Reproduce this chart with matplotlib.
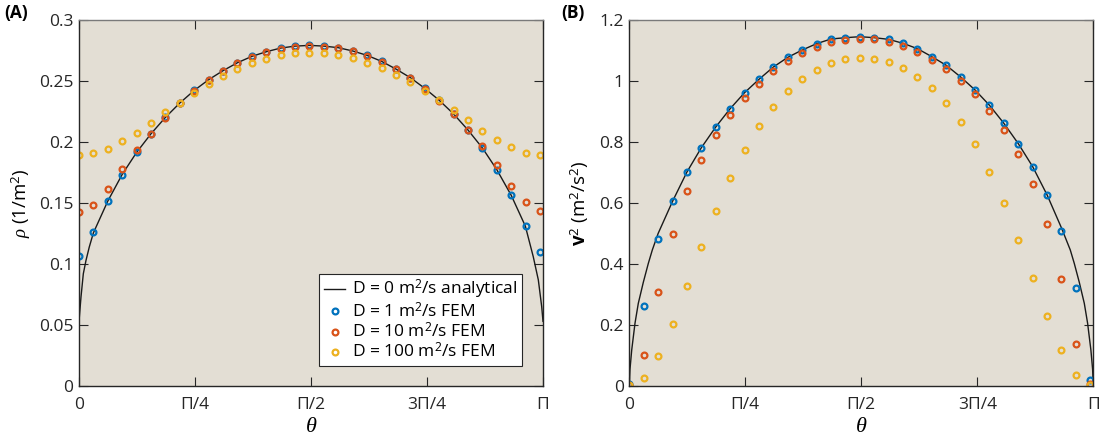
import numpy as np
import matplotlib
matplotlib.use("Agg")
import matplotlib.pyplot as plt
from matplotlib.lines import Line2D

plt.rcParams['font.family'] = ['Open Sans', 'DejaVu Sans']
plt.rcParams['mathtext.fontset'] = 'custom'
plt.rcParams['mathtext.rm'] = 'Open Sans'
plt.rcParams['mathtext.it'] = 'Liberation Serif:italic'
plt.rcParams['mathtext.bf'] = 'Open Sans:bold'

# ---------------- data ----------------
# FEM sample angles (fraction of pi)
theta_fem_frac = np.linspace(0.0, 0.9935, 33)

rho_D1 = [0.1063, 0.1260, 0.1516, 0.1732, 0.1915, 0.2068, 0.2202, 0.2320, 0.2423, 0.2511,
          0.2585, 0.2650, 0.2702, 0.2740, 0.2770, 0.2786, 0.2792, 0.2786, 0.2773, 0.2746,
          0.2710, 0.2661, 0.2598, 0.2527, 0.2440, 0.2342, 0.2230, 0.2098, 0.1951, 0.1773,
          0.1563, 0.1311, 0.1096]
rho_D10 = [0.1426, 0.1486, 0.1612, 0.1776, 0.1934, 0.2068, 0.2200, 0.2318, 0.2421, 0.2508,
           0.2582, 0.2647, 0.2699, 0.2737, 0.2766, 0.2782, 0.2788, 0.2782, 0.2769, 0.2742,
           0.2706, 0.2657, 0.2595, 0.2524, 0.2438, 0.2340, 0.2229, 0.2100, 0.1967, 0.1809,
           0.1642, 0.1506, 0.1432]
rho_D100 = [0.1893, 0.1907, 0.1945, 0.2005, 0.2077, 0.2156, 0.2246, 0.2320, 0.2402, 0.2475,
            0.2538, 0.2596, 0.2645, 0.2683, 0.2710, 0.2727, 0.2732, 0.2727, 0.2713, 0.2689,
            0.2650, 0.2607, 0.2552, 0.2489, 0.2418, 0.2342, 0.2265, 0.2178, 0.2093, 0.2016,
            0.1956, 0.1913, 0.1896]

v2_D1 = [0.005, 0.2634, 0.4810, 0.6055, 0.7016, 0.7814, 0.8492, 0.9093, 0.9617, 1.0055,
         1.0459, 1.0776, 1.1016, 1.1224, 1.1377, 1.1420, 1.1453, 1.1420, 1.1366, 1.1235,
         1.1060, 1.0797, 1.0514, 1.0131, 0.9705, 0.9203, 0.8612, 0.7945, 0.7190, 0.6262,
         0.5093, 0.3224, 0.0197]
v2_D10 = [0.002, 0.1005, 0.3071, 0.4973, 0.6393, 0.7420, 0.8230, 0.8885, 0.9432, 0.9913,
          1.0317, 1.0656, 1.0918, 1.1126, 1.1268, 1.1355, 1.1388, 1.1366, 1.1290, 1.1148,
          1.0951, 1.0699, 1.0393, 1.0000, 0.9563, 0.9016, 0.8383, 0.7607, 0.6633, 0.5301,
          0.3497, 0.1377, 0.005]
v2_D100 = [0.002, 0.0251, 0.0984, 0.2044, 0.3279, 0.4546, 0.5749, 0.6830, 0.7749, 0.8514,
           0.9159, 0.9672, 1.0077, 1.0372, 1.0601, 1.0721, 1.0765, 1.0732, 1.0623, 1.0426,
           1.0142, 0.9760, 0.9268, 0.8667, 0.7924, 0.7016, 0.5990, 0.4798, 0.3530, 0.2284,
           0.1180, 0.0372, 0.002]

# analytical (D = 0) curves (theta as fraction of pi)
theta_an_A_frac = [0.0, 0.0043, 0.0093, 0.0151, 0.0222, 0.0310, 0.0621, 0.0932, 0.1242, 0.1553,
                   0.1863, 0.2174, 0.2484, 0.2795, 0.3105, 0.3416, 0.3726, 0.4037, 0.4347, 0.4658,
                   0.4968, 0.5279, 0.5589, 0.5900, 0.6210, 0.6521, 0.6831, 0.7142, 0.7452, 0.7763,
                   0.8073, 0.8384, 0.8694, 0.9005, 0.9315, 0.9619, 0.9790, 0.9899, 0.9972, 1.0]
rho_an = [0.053, 0.073, 0.092, 0.103, 0.114, 0.1255, 0.1516, 0.1735, 0.1915, 0.2068,
          0.2202, 0.2320, 0.2423, 0.2511, 0.2585, 0.2650, 0.2702, 0.2740, 0.2770, 0.2786,
          0.2792, 0.2786, 0.2773, 0.2746, 0.2710, 0.2661, 0.2598, 0.2527, 0.2440, 0.2342,
          0.2230, 0.2098, 0.1951, 0.1773, 0.1563, 0.1311, 0.1060, 0.0870, 0.0650, 0.053]

theta_an_B_frac = [0.0, 0.0015, 0.0052, 0.0123, 0.0194, 0.0302, 0.0410, 0.0496, 0.0621, 0.0932,
                   0.1242, 0.1553, 0.1863, 0.2174, 0.2484, 0.2795, 0.3105, 0.3416, 0.3726, 0.4037,
                   0.4347, 0.4658, 0.4968, 0.5279, 0.5589, 0.5900, 0.6210, 0.6521, 0.6831, 0.7142,
                   0.7452, 0.7763, 0.8073, 0.8384, 0.8694, 0.9005, 0.9315, 0.9504, 0.9590, 0.9698,
                   0.9806, 0.9877, 0.9948, 0.9985, 1.0]
v2_an = [0.0, 0.055, 0.118, 0.206, 0.271, 0.340, 0.402, 0.446, 0.500, 0.6055,
         0.7016, 0.7814, 0.8492, 0.9093, 0.9617, 1.0055, 1.0459, 1.0776, 1.1016, 1.1224,
         1.1377, 1.1420, 1.1453, 1.1420, 1.1366, 1.1235, 1.1060, 1.0797, 1.0514, 1.0131,
         0.9705, 0.9203, 0.8612, 0.7945, 0.7190, 0.6262, 0.5180, 0.446, 0.402, 0.340,
         0.271, 0.206, 0.118, 0.055, 0.0]

xtick_frac = [0, 0.25, 0.5, 0.75, 1.0]
xtick_labels = ['0', 'Π/4', 'Π/2', '3Π/4', 'Π']
ytick_A = [0, 0.05, 0.1, 0.15, 0.2, 0.25, 0.3]
ytick_A_labels = ['0', '0.05', '0.1', '0.15', '0.2', '0.25', '0.3']
ytick_B = [0, 0.2, 0.4, 0.6, 0.8, 1.0, 1.2]
ytick_B_labels = ['0', '0.2', '0.4', '0.6', '0.8', '1', '1.2']

legend_labels = ['D = 0 m$^2$/s analytical', 'D = 1 m$^2$/s FEM',
                 'D = 10 m$^2$/s FEM', 'D = 100 m$^2$/s FEM']

# ---------------- style ----------------
C_BLUE = '#0072BD'
C_RED = '#D95319'
C_YEL = '#EDB120'
BG = '#E3DED4'
FS = 12.5

fig = plt.figure(figsize=(11.09, 4.43), dpi=100)
axA = fig.add_axes([79 / 1109, 1 - 386 / 443, 464 / 1109, 366 / 443])
axB = fig.add_axes([629.3 / 1109, 1 - 386 / 443, 464 / 1109, 366 / 443])

th_fem = np.asarray(theta_fem_frac) * np.pi
mk = dict(linestyle='none', marker='o', markersize=4.2, markeredgewidth=1.6,
          markerfacecolor='none')


def style_axes(ax, yt, ytl, ymax):
    ax.set_facecolor(BG)
    ax.set_xlim(0, np.pi)
    ax.set_ylim(0, ymax)
    ax.set_xticks(np.asarray(xtick_frac) * np.pi)
    ax.set_xticklabels(xtick_labels)
    ax.set_yticks(yt)
    ax.set_yticklabels(ytl)
    ax.tick_params(direction='in', length=6.7, width=0.8, top=True, right=True,
                   labelsize=FS, colors='#262626', pad=4)
    ax.tick_params(axis='x', pad=8)
    for s in ['left', 'bottom', 'right']:
        ax.spines[s].set_color('#262626')
        ax.spines[s].set_linewidth(1.0)
    ax.spines['top'].set_color('#7a7a7a')
    ax.spines['top'].set_linewidth(1.0)
    ax.set_xlabel(r'$\theta$', fontsize=16, labelpad=2)


# panel A
axA.plot(np.asarray(theta_an_A_frac) * np.pi, rho_an, color='#1a1a1a', lw=1.0)
axA.plot(th_fem, rho_D1, color=C_BLUE, markeredgecolor=C_BLUE, **mk)
axA.plot(th_fem, rho_D10, color=C_RED, markeredgecolor=C_RED, **mk)
axA.plot(th_fem, rho_D100, color=C_YEL, markeredgecolor=C_YEL, **mk)
style_axes(axA, ytick_A, ytick_A_labels, 0.3)
axA.set_ylabel(r'$\rho$ (1/m$^2$)', fontsize=FS + 1, labelpad=4)

# panel B
axB.plot(np.asarray(theta_an_B_frac) * np.pi, v2_an, color='#1a1a1a', lw=1.0)
axB.plot(th_fem, v2_D1, color=C_BLUE, markeredgecolor=C_BLUE, **mk)
axB.plot(th_fem, v2_D10, color=C_RED, markeredgecolor=C_RED, **mk)
axB.plot(th_fem, v2_D100, color=C_YEL, markeredgecolor=C_YEL, **mk)
style_axes(axB, ytick_B, ytick_B_labels, 1.2)
axB.set_ylabel(r'$\mathbf{v}^2$ (m$^2$/s$^2$)', fontsize=FS + 1, labelpad=6)

# legend
handles = [Line2D([], [], color='#1a1a1a', lw=1.0),
           Line2D([], [], color=C_BLUE, markeredgecolor=C_BLUE, **mk),
           Line2D([], [], color=C_RED, markeredgecolor=C_RED, **mk),
           Line2D([], [], color=C_YEL, markeredgecolor=C_YEL, **mk)]
leg = axA.legend(handles, legend_labels, loc='lower right',
                 bbox_to_anchor=(0.9547, 0.0546), fontsize=FS, frameon=True,
                 fancybox=False, edgecolor='#262626', framealpha=1.0,
                 handlelength=1.25, handletextpad=0.4, borderpad=0.25,
                 labelspacing=0.05, borderaxespad=0.0)
leg.get_frame().set_linewidth(0.8)

# panel labels
fig.text(4 / 1109, 1 - 13 / 443, '(A)', fontsize=12.5, fontweight='bold', va='center', ha='left')
fig.text(561 / 1109, 1 - 13 / 443, '(B)', fontsize=12.5, fontweight='bold', va='center', ha='left')

fig.savefig('out.png', dpi=100)
